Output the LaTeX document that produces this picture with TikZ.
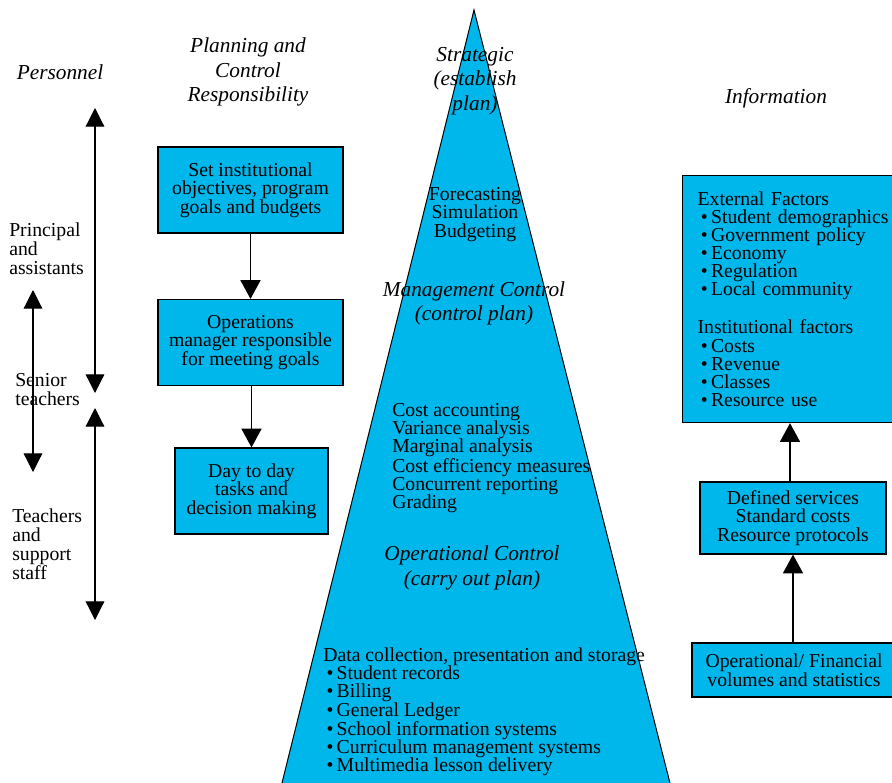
\documentclass[tikz,border=0pt]{standalone}
\usepackage{fontspec}
\setmainfont{Liberation Serif}
\usepackage{xcolor}
\usetikzlibrary{arrows.meta}
\definecolor{boxblue}{RGB}{0,183,235}

\begin{document}
\begin{tikzpicture}[x=0.75pt,y=0.75pt,yscale=-1,xscale=1,
  plan/.style={draw=black,fill=boxblue,line width=0.9pt,align=center,inner sep=0pt,font=\fontsize{14.8}{14}\selectfont},
  txt/.style={inner sep=0pt,font=\fontsize{14.8}{13.6}\selectfont},
  side/.style={inner sep=0pt,align=left,font=\fontsize{14.8}{14.3}\selectfont},
  head/.style={inner sep=0pt,align=center,font=\fontsize{16}{18.5}\selectfont\itshape},
  tip/.style={line width=0.9pt,-{Triangle[length=14pt,width=15pt]}},
  both/.style={line width=0.9pt,{Triangle[length=14pt,width=14pt]}-{Triangle[length=14pt,width=14pt]}}]
  \useasboundingbox (0,0) rectangle (892,782);
  \clip (0,0) rectangle (892,782);

  %Shape: Triangle
  \draw [fill=boxblue,line width=0.75pt] (474,10) -- (279,795) -- (673,795) -- cycle ;

  % Text Node
  \node (personnel) [head] at (60,72) {Personnel};
  % Text Node
  \node (planhead) [head] at (248,72) {Planning and\\Control\\Responsibility};
  % Text Node
  \node (infohead) [head] at (776,98) {Information};

  %Straight Lines
  \coordinate (ptop) at (95,108);
  \coordinate (pmid) at (95,393);
  \coordinate (tmid) at (95,408);
  \coordinate (tbot) at (95,620);
  \coordinate (stop) at (33,290);
  \coordinate (sbot) at (33,472);
  \draw [both] (ptop) -- (pmid) ;
  \draw [both] (tmid) -- (tbot) ;
  \draw [both] (stop) -- (sbot) ;

  % Text Node
  \node (principal) [side,anchor=west] at (9,249) {Principal\\and\\assistants};
  % Text Node
  \node (senior) [side,anchor=west] at (15,390) {Senior\\teachers};
  % Text Node
  \node (teachers) [side,anchor=west] at (12,544) {Teachers\\and\\support\\staff};

  %Shape: Rectangle
  \node (setobj) [plan,minimum width=138.75pt,minimum height=64.5pt] at (250.5,190) {Set institutional\\objectives, program\\goals and budgets};
  %Shape: Rectangle
  \node (opsman) [plan,minimum width=138.75pt,minimum height=64.5pt] at (250.5,342.5) {Operations\\manager responsible\\for meeting goals};
  %Shape: Rectangle
  \node (daytoday) [plan,minimum width=114.75pt,minimum height=64.5pt] at (251.5,491) {Day to day\\tasks and\\decision making};

  %Straight Lines
  \draw [tip] (setobj) -- (opsman) ;
  \draw [tip] (opsman.south -| daytoday) -- (daytoday) ;

  % Text Node
  \node (strategic) [head] at (475,81) {Strategic\\(establish\\plan)};
  % Text Node
  \node (forecast) [txt,align=center] at (475,214.5) {Forecasting\\Simulation\\Budgeting};
  % Text Node
  \node (mgmt) [head] at (474,303.5) {Management Control\\(control plan)};
  % Text Node
  \node (costlist) [txt,align=left,anchor=west] at (392,458) {Cost accounting\\Variance analysis\\Marginal analysis\\Cost efficiency measures\\Concurrent reporting\\Grading};
  % Text Node
  \node (operctl) [head] at (472,568) {Operational Control\\(carry out plan)};
  % Text Node
  \node (datalist) [txt,align=left,anchor=west] at (323,712) {Data collection, presentation and storage\\
    \,•\,Student records\\\,•\,Billing\\\,•\,General Ledger\\\,•\,School information systems\\
    \,•\,Curriculum management systems\\\,•\,Multimedia lesson delivery};

  %Shape: Rectangle
  \node (factors) [plan,align=left,anchor=north west,inner xsep=11.25pt,text width=150pt,minimum height=185.25pt,font=\fontsize{14.8}{13.6}\selectfont] at (682,175)
    {External Factors\\\,•\,Student demographics\\\,•\,Government policy\\\,•\,Economy\\\,•\,Regulation\\\,•\,Local community\\[14pt]
     Institutional factors\\\,•\,Costs\\\,•\,Revenue\\\,•\,Classes\\\,•\,Resource use};
  %Shape: Rectangle
  \node (services) [plan,minimum width=139.5pt,minimum height=54pt] at (793,518) {Defined services\\Standard costs\\Resource protocols};
  %Shape: Rectangle
  \node (volumes) [plan,minimum width=153pt,minimum height=40.5pt] at (794,670) {Operational/ Financial\\volumes and statistics};

  %Straight Lines
  \draw [tip] (services.north -| 790,0) -- (factors.south -| 790,0) ;
  \draw [tip] (volumes.north -| 793,0) -- (services.south -| 793,0) ;
\end{tikzpicture}
\end{document}
